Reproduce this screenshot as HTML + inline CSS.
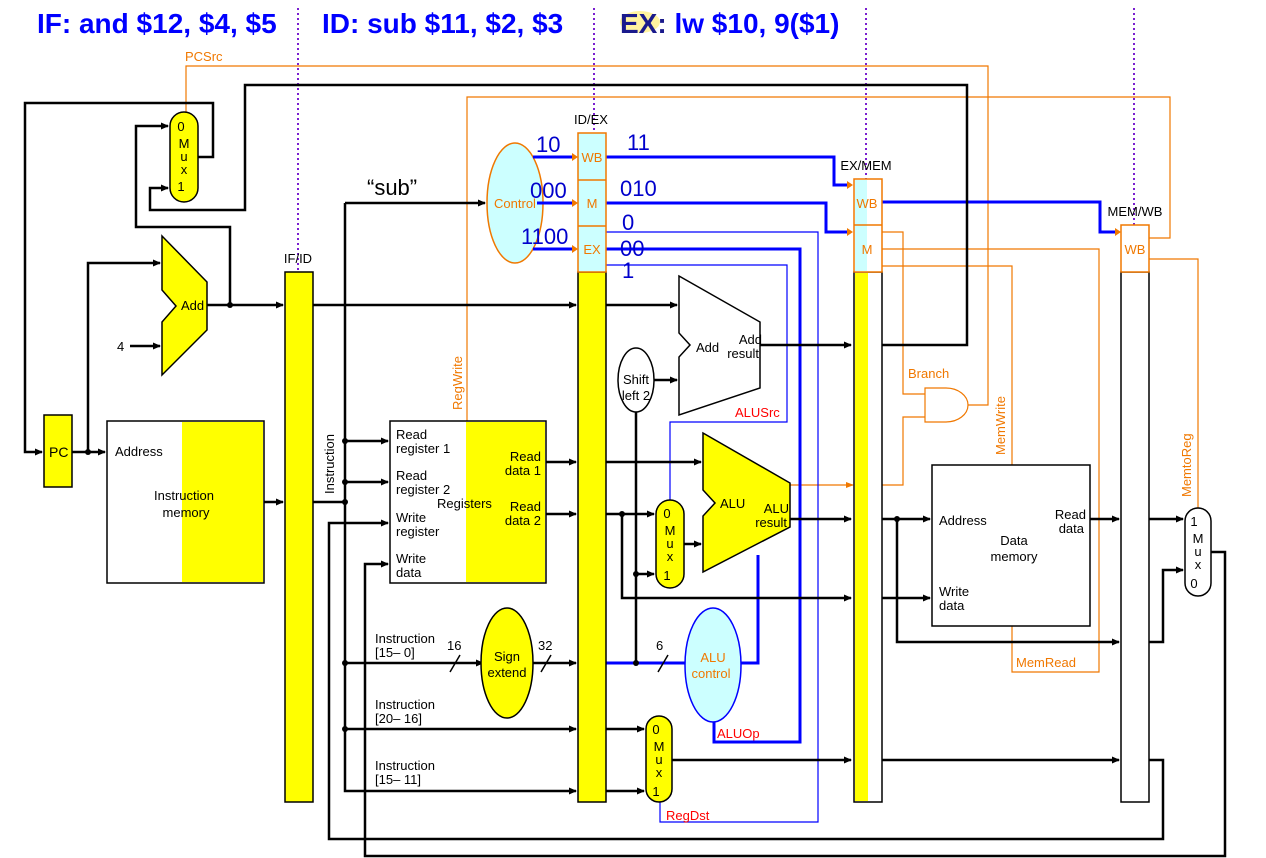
<!DOCTYPE html>
<html><head><meta charset="utf-8"><style>
html,body{margin:0;padding:0;background:#fff;}
svg{display:block;font-family:"Liberation Sans",sans-serif;}
</style></head><body>
<svg width="1266" height="858" viewBox="0 0 1266 858" xmlns="http://www.w3.org/2000/svg">
<defs>
<marker id="ab" markerWidth="8" markerHeight="8" refX="7" refY="4" orient="auto" markerUnits="userSpaceOnUse"><path d="M0,0.5 L8,4 L0,7.5 z" fill="#000"/></marker>
<marker id="ao" markerWidth="8" markerHeight="8" refX="7" refY="4" orient="auto" markerUnits="userSpaceOnUse"><path d="M0,1 L8,4 L0,7 z" fill="#f07800"/></marker>
</defs>

<!-- titles -->
<ellipse cx="640" cy="22" rx="20" ry="11" fill="#fff3a0"/>
<g font-weight="bold" font-size="28" fill="#0000ff">
<text x="37" y="33">IF: and $12, $4, $5</text>
<text x="322" y="33">ID: sub $11, $2, $3</text>
<text x="620" y="33"><tspan fill="#1a1a8c">EX:</tspan> lw $10, 9($1)</text>
</g>

<!-- orange control lines -->
<g stroke="#f07800" stroke-width="1.2" fill="none">
<polyline points="186,112 186,66 988,66 988,405 968,405"/>
<polyline points="467,421 467,97 1170,97 1170,238 1149,238"/>
<polyline points="882,232 903,232 903,394 925,394"/>
<polyline points="882,485 903,485 903,417 925,417"/>
<polyline points="882,249 1099,249 1099,672 1012,672 1012,626"/>
<polyline points="882,266 1012,266 1012,465"/>
<polyline points="1149,259 1198,259 1198,508"/>
<line x1="790" y1="485" x2="853" y2="485" marker-end="url(#ao)"/>
<path d="M925,388 L946,388 A22,17 0 0 1 946,422 L925,422 Z" fill="#fff"/>
</g>
<g fill="#f07800" font-size="13">
<text x="185" y="61">PCSrc</text>
<text x="908" y="378">Branch</text>
<text x="1016" y="667">MemRead</text>
<text transform="translate(462,410) rotate(-90)">RegWrite</text>
<text transform="translate(1005,455) rotate(-90)">MemWrite</text>
<text transform="translate(1191,497) rotate(-90)">MemtoReg</text>
<text x="757" y="490">Zero</text>
</g>

<!-- purple dotted -->
<g stroke="#7a1fd0" stroke-width="2" stroke-dasharray="2,3">
<line x1="298" y1="8" x2="298" y2="280"/>
<line x1="594" y1="8" x2="594" y2="132"/>
<line x1="866" y1="8" x2="866" y2="180"/>
<line x1="1134" y1="8" x2="1134" y2="228"/>
</g>

<ellipse cx="515" cy="203" rx="28" ry="60" fill="#ccffff" stroke="#f07800" stroke-width="1.5"/>
<text x="515" y="208" font-size="13" fill="#f07800" text-anchor="middle">Control</text>

<!-- blue control lines -->
<g stroke="#0000ff" fill="none">
<g stroke-width="3">
<line x1="533" y1="157" x2="576" y2="157"/>
<line x1="537" y1="203" x2="576" y2="203"/>
<line x1="533" y1="249" x2="576" y2="249"/>
<polyline points="606,157 834,157 834,185 851,185"/>
<polyline points="606,203 826,203 826,232 851,232"/>
<polyline points="882,202 1100,202 1100,232 1119,232"/>
<polyline points="606,249 800,249 800,742 714,742 714,722"/>
<polyline points="606,663 685,663"/>
<polyline points="741,663 758,663 758,555"/>
</g>
<g stroke-width="1.2">
<polyline points="606,232 818,232 818,822 660,822 660,802"/>
<polyline points="606,265 787,265 787,422 670,422 670,500"/>
</g>
</g>
<g fill="#f07800"><path d="M572,153 L578,157 L572,161Z"/><path d="M572,199 L578,203 L572,207Z"/><path d="M572,245 L578,249 L572,253Z"/><path d="M847,181 L853,185 L847,189Z"/><path d="M847,228 L853,232 L847,236Z"/><path d="M1115,228 L1121,232 L1115,236Z"/></g>
<g fill="#0000cc" font-size="22">
<text x="536" y="152">10</text><text x="530" y="198">000</text><text x="521" y="244">1100</text>
<text x="627" y="150">11</text><text x="620" y="196">010</text><text x="622" y="230">0</text><text x="620" y="256">00</text><text x="622" y="278">1</text>
</g>
<g fill="#ff0000" font-size="13"><text x="735" y="417">ALUSrc</text><text x="717" y="738">ALUOp</text><text x="666" y="820">RegDst</text></g>

<!-- black wires -->
<g stroke="#000" stroke-width="2.5" fill="none">
<polyline points="198,157 213,157 213,103 25,103 25,452 42,452" marker-end="url(#ab)"/>
<polyline points="72,452 105,452" marker-end="url(#ab)"/>
<polyline points="88,452 88,263 160,263" marker-end="url(#ab)"/>
<polyline points="130,346 160,346" marker-end="url(#ab)"/>
<polyline points="207,305 283,305" marker-end="url(#ab)"/>
<polyline points="230,305 230,227 136,227 136,126 168,126" marker-end="url(#ab)"/>
<polyline points="264,502 283,502" marker-end="url(#ab)"/>
<polyline points="313,305 576,305" marker-end="url(#ab)"/>
<polyline points="606,305 677,305" marker-end="url(#ab)"/>
<polyline points="313,502 345,502"/>
<polyline points="345,203 345,780"/>
<polyline points="345,203 485,203" marker-end="url(#ab)"/>
<polyline points="345,441 388,441" marker-end="url(#ab)"/>
<polyline points="345,482 388,482" marker-end="url(#ab)"/>
<polyline points="1149,760 1163,760 1163,839 329,839 329,523 388,523" marker-end="url(#ab)"/>
<polyline points="1210,552 1225,552 1225,856 365,856 365,564 388,564" marker-end="url(#ab)"/>
<polyline points="345,663 483,663" marker-end="url(#ab)"/>
<polyline points="533,663 576,663" marker-end="url(#ab)"/>
<polyline points="345,729 576,729" marker-end="url(#ab)"/>
<polyline points="345,780 345,791 576,791" marker-end="url(#ab)"/>
<polyline points="546,462 576,462" marker-end="url(#ab)"/>
<polyline points="546,514 576,514" marker-end="url(#ab)"/>
<polyline points="606,462 701,462" marker-end="url(#ab)"/>
<polyline points="606,514 654,514" marker-end="url(#ab)"/>
<polyline points="622,514 622,598 851,598" marker-end="url(#ab)"/>
<polyline points="636,412 636,663"/>
<polyline points="636,574 654,574" marker-end="url(#ab)"/>
<polyline points="654,380 677,380" marker-end="url(#ab)"/>
<polyline points="684,544 701,544" marker-end="url(#ab)"/>
<polyline points="760,345 851,345" marker-end="url(#ab)"/>
<polyline points="882,345 967,345 967,85 245,85 245,210 150,210 150,188 168,188" marker-end="url(#ab)"/>
<polyline points="790,519 851,519" marker-end="url(#ab)"/>
<polyline points="882,519 930,519" marker-end="url(#ab)"/>
<polyline points="897,519 897,642 1119,642" marker-end="url(#ab)"/>
<polyline points="882,598 930,598" marker-end="url(#ab)"/>
<polyline points="1090,519 1119,519" marker-end="url(#ab)"/>
<polyline points="1149,519 1183,519" marker-end="url(#ab)"/>
<polyline points="1149,642 1163,642 1163,570 1183,570" marker-end="url(#ab)"/>
<polyline points="606,729 644,729" marker-end="url(#ab)"/>
<polyline points="606,791 644,791" marker-end="url(#ab)"/>
<polyline points="672,760 851,760" marker-end="url(#ab)"/>
<polyline points="882,760 1119,760" marker-end="url(#ab)"/>
</g>
<g stroke="#000" stroke-width="1.5"><line x1="450" y1="672" x2="460" y2="655"/><line x1="541" y1="672" x2="551" y2="655"/><line x1="658" y1="672" x2="668" y2="655"/></g>
<g fill="#000"><circle cx="88" cy="452" r="3"/><circle cx="230" cy="305" r="3"/><circle cx="345" cy="441" r="3"/><circle cx="345" cy="482" r="3"/><circle cx="345" cy="502" r="3"/><circle cx="345" cy="663" r="3"/><circle cx="345" cy="729" r="3"/><circle cx="622" cy="514" r="3"/><circle cx="636" cy="574" r="3"/><circle cx="636" cy="663" r="3"/><circle cx="897" cy="519" r="3"/></g>

<!-- components -->
<rect x="44" y="415" width="28" height="72" fill="#ffff00" stroke="#000" stroke-width="1.5"/>
<text x="49" y="457" font-size="14">PC</text>
<rect x="107" y="421" width="157" height="162" fill="#fff" stroke="#000" stroke-width="1.5"/>
<rect x="182" y="422" width="81" height="160" fill="#ffff00"/>
<text x="115" y="456" font-size="13">Address</text>
<text x="184" y="500" font-size="13" text-anchor="middle">Instruction</text>
<text x="186" y="517" font-size="13" text-anchor="middle">memory</text>

<polygon points="162,236 207,282 207,330 162,375 162,322 176,306 162,290" fill="#ffff00" stroke="#000" stroke-width="1.5"/>
<text x="181" y="310" font-size="13">Add</text>
<text x="117" y="351" font-size="13">4</text>

<rect x="170" y="112" width="28" height="90" rx="14" fill="#ffff00" stroke="#000" stroke-width="1.5"/>
<g font-size="13" text-anchor="middle"><text x="181" y="131">0</text><text x="184" y="148">M</text><text x="184" y="161">u</text><text x="184" y="174">x</text><text x="181" y="191">1</text></g>

<rect x="285" y="272" width="28" height="530" fill="#ffff00" stroke="#000" stroke-width="1.5"/>
<text x="298" y="263" font-size="13" text-anchor="middle">IF/ID</text>
<text transform="translate(334,494) rotate(-90)" font-size="13">Instruction</text>

<text x="367" y="195" font-size="22">“sub”</text>

<rect x="390" y="421" width="156" height="162" fill="#fff" stroke="#000" stroke-width="1.5"/>
<rect x="466" y="422" width="79" height="160" fill="#ffff00"/>
<g font-size="13"><text x="396" y="439">Read</text><text x="396" y="453">register 1</text><text x="396" y="480">Read</text><text x="396" y="494">register 2</text><text x="396" y="522">Write</text><text x="396" y="536">register</text><text x="396" y="563">Write</text><text x="396" y="577">data</text>
<text x="437" y="508">Registers</text>
<text x="541" y="461" text-anchor="end">Read</text><text x="541" y="475" text-anchor="end">data 1</text><text x="541" y="511" text-anchor="end">Read</text><text x="541" y="525" text-anchor="end">data 2</text></g>

<ellipse cx="507" cy="663" rx="26" ry="55" fill="#ffff00" stroke="#000" stroke-width="1.5"/>
<g font-size="13" text-anchor="middle"><text x="507" y="661">Sign</text><text x="507" y="677">extend</text></g>
<g font-size="13"><text x="447" y="650">16</text><text x="538" y="650">32</text><text x="656" y="650">6</text>
<text x="375" y="643">Instruction</text><text x="375" y="657">[15– 0]</text>
<text x="375" y="709">Instruction</text><text x="375" y="723">[20– 16]</text>
<text x="375" y="770">Instruction</text><text x="375" y="784">[15– 11]</text></g>

<!-- ID/EX -->
<rect x="578" y="272" width="28" height="530" fill="#ffff00" stroke="#000" stroke-width="1.5"/>
<rect x="578" y="133" width="28" height="139" fill="#ccffff" stroke="#f07800" stroke-width="1.5"/>
<line x1="578" y1="180" x2="606" y2="180" stroke="#f07800" stroke-width="1.5"/>
<line x1="578" y1="226" x2="606" y2="226" stroke="#f07800" stroke-width="1.5"/>
<g font-size="13" fill="#f07800" text-anchor="middle"><text x="592" y="162">WB</text><text x="592" y="208">M</text><text x="592" y="254">EX</text></g>
<text x="591" y="124" font-size="13" text-anchor="middle">ID/EX</text>

<polygon points="679,276 760,322 760,388 679,415 679,357 690,345 679,333" fill="#fff" stroke="#000" stroke-width="1.5"/>
<g font-size="13"><text x="696" y="352">Add</text><text x="762" y="344" text-anchor="end">Add</text><text x="759" y="358" text-anchor="end">result</text></g>
<ellipse cx="636" cy="380" rx="18" ry="32" fill="#fff" stroke="#000" stroke-width="1.5"/>
<g font-size="13" text-anchor="middle"><text x="636" y="384">Shift</text><text x="636" y="400">left 2</text></g>

<rect x="656" y="500" width="28" height="88" rx="14" fill="#ffff00" stroke="#000" stroke-width="1.5"/>
<g font-size="13" text-anchor="middle"><text x="667" y="518">0</text><text x="670" y="535">M</text><text x="670" y="548">u</text><text x="670" y="561">x</text><text x="667" y="580">1</text></g>

<polygon points="703,433 790,483 790,527 703,572 703,516 715,503 703,490" fill="#ffff00" stroke="#000" stroke-width="1.5"/>
<g font-size="13"><text x="720" y="508">ALU</text><text x="789" y="513" text-anchor="end">ALU</text><text x="787" y="527" text-anchor="end">result</text></g>

<ellipse cx="713" cy="665" rx="28" ry="57" fill="#ccffff" stroke="#0000ff" stroke-width="1.5"/>
<g font-size="13" fill="#f07800" text-anchor="middle"><text x="713" y="662">ALU</text><text x="711" y="678">control</text></g>

<rect x="646" y="716" width="26" height="86" rx="13" fill="#ffff00" stroke="#000" stroke-width="1.5"/>
<g font-size="13" text-anchor="middle"><text x="656" y="734">0</text><text x="659" y="751">M</text><text x="659" y="764">u</text><text x="659" y="777">x</text><text x="656" y="796">1</text></g>

<!-- EX/MEM -->
<rect x="854" y="272" width="28" height="530" fill="#fff" stroke="#000" stroke-width="1.5"/>
<rect x="855" y="273" width="13" height="528" fill="#ffff00"/>
<rect x="854" y="179" width="28" height="93" fill="#fff" stroke="#f07800" stroke-width="1.5"/>
<rect x="855" y="180" width="12" height="91" fill="#ccffff"/>
<line x1="854" y1="225" x2="882" y2="225" stroke="#f07800" stroke-width="1.5"/>
<g font-size="13" fill="#f07800" text-anchor="middle"><text x="867" y="208">WB</text><text x="867" y="254">M</text></g>
<text x="866" y="170" font-size="13" text-anchor="middle">EX/MEM</text>

<rect x="932" y="465" width="158" height="161" fill="#fff" stroke="#000" stroke-width="1.5"/>
<g font-size="13"><text x="939" y="525">Address</text><text x="939" y="596">Write</text><text x="939" y="610">data</text>
<text x="1086" y="519" text-anchor="end">Read</text><text x="1084" y="533" text-anchor="end">data</text>
<text x="1014" y="545" text-anchor="middle">Data</text><text x="1014" y="561" text-anchor="middle">memory</text></g>

<!-- MEM/WB -->
<rect x="1121" y="272" width="28" height="530" fill="#fff" stroke="#000" stroke-width="1.5"/>
<rect x="1121" y="225" width="28" height="47" fill="#fff" stroke="#f07800" stroke-width="1.5"/>
<text x="1135" y="254" font-size="13" fill="#f07800" text-anchor="middle">WB</text>
<text x="1135" y="216" font-size="13" text-anchor="middle">MEM/WB</text>

<rect x="1185" y="508" width="26" height="88" rx="13" fill="#fff" stroke="#000" stroke-width="1.5"/>
<g font-size="13" text-anchor="middle"><text x="1194" y="526">1</text><text x="1198" y="543">M</text><text x="1198" y="556">u</text><text x="1198" y="569">x</text><text x="1194" y="588">0</text></g>
</svg>
</body></html>
